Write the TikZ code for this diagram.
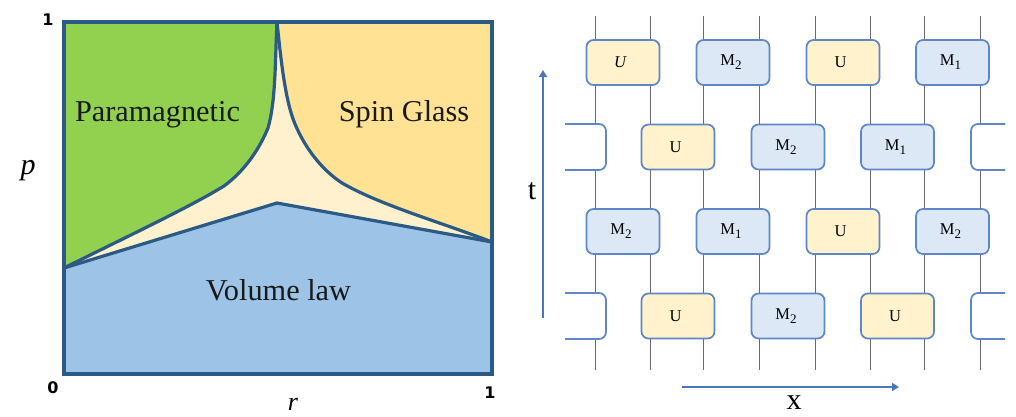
\documentclass[tikz,border=0pt]{standalone}
\usepackage{fontspec}
\setmainfont{Liberation Serif}
\newfontfamily\axisfont{DejaVu Sans}
\usetikzlibrary{arrows.meta}
\definecolor{edgeblue}{HTML}{2B5A84}
\definecolor{greenreg}{HTML}{92D050}
\definecolor{yellowreg}{HTML}{FFE294}
\definecolor{creamreg}{HTML}{FFF0CE}
\definecolor{bluereg}{HTML}{9DC3E6}
\definecolor{gateline}{HTML}{5F86C6}
\definecolor{gateblue}{HTML}{DCE8F6}
\definecolor{gateyellow}{HTML}{FFF2CC}
\definecolor{wirecol}{HTML}{6A6A6A}
\definecolor{arrowcol}{HTML}{4A76BE}
\tikzset{
  region/.style={font=\fontsize{30.3}{32}\selectfont, text=black!90, inner sep=0pt},
  axisnum/.style={font=\axisfont\bfseries\fontsize{16}{18}\selectfont, inner sep=0pt},
  axisvar/.style={font=\fontsize{30}{32}\selectfont, inner sep=0pt},
  gate/.style={draw=gateline, line width=1.7pt, rounded corners=7pt, minimum width=73pt, minimum height=45pt, inner sep=0pt, font=\fontsize{16.5}{19}\selectfont},
  ugate/.style={gate, fill=gateyellow},
  mgate/.style={gate, fill=gateblue},
  wire/.style={draw=wirecol, line width=1.2pt},
  halfgate/.style={draw=gateline, fill=white, line width=1.7pt, rounded corners=7pt},
  tarrow/.style={draw=arrowcol, line width=2.3pt, -{Triangle[length=7pt,width=8pt]}},
  phase/.style={draw=edgeblue, line width=3.2pt, line join=round}
}
\newcommand{\gatesub}[1]{\raisebox{-4pt}{\fontsize{13}{14}\selectfont #1}}
\newcommand{\Mone}{\hspace*{-4pt}M\gatesub{1}}
\newcommand{\Mtwo}{\hspace*{-4pt}M\gatesub{2}}
\newcommand{\Ugate}{\hspace*{-5pt}U}
\begin{document}
\begin{tikzpicture}[x=1pt,y=-1pt]
\useasboundingbox (0,0) rectangle (1016,416);
% phase diagram corners
\coordinate (tl) at (64,22);
\coordinate (tr) at (492,22);
\coordinate (br) at (492,374);
\coordinate (bl) at (64,374);
\coordinate (top) at (277,22);
\coordinate (jl) at (64,268);
\coordinate (jr) at (492,242);
\coordinate (jm) at (277,203);
% regions
\fill[creamreg] (jl) -- (top) -- (jr) -- (jm) -- cycle;
\fill[creamreg] (top) -- (255,160) -- (300,160) -- cycle;
\fill[greenreg] (tl) -- (top) .. controls (275,60) and (276,100) .. (268,128) .. controls (258,152) and (243,172) .. (224,186) .. controls (190,207) and (120,240) .. (jl) -- cycle;
\fill[yellowreg] (tr) -- (top) .. controls (281,60) and (285,100) .. (295,124) .. controls (305,148) and (322,170) .. (342,183) .. controls (380,205) and (440,222) .. (jr) -- cycle;
\fill[bluereg] (jl) -- (jm) -- (jr) -- (br) -- (bl) -- cycle;
% boundaries
\draw[phase] (top) .. controls (275,60) and (276,100) .. (268,128) .. controls (258,152) and (243,172) .. (224,186) .. controls (190,207) and (120,240) .. (jl);
\draw[phase] (top) .. controls (281,60) and (285,100) .. (295,124) .. controls (305,148) and (322,170) .. (342,183) .. controls (380,205) and (440,222) .. (jr);
\draw[phase] (jl) -- (jm) -- (jr);
\draw[phase, line width=3.6pt, line join=miter] (tl) -- (tr) -- (br) -- (bl) -- cycle;
% labels
\node[region] (para) at (157.5,114.5) {Paramagnetic};
\node[region] (spin) at (404,114.5) {Spin Glass};
\node[region] (vol) at (278.5,290) {Volume law};
\node[axisnum] (n1a) at (48,20) {1};
\node[axisnum] (n0) at (53,388) {0};
\node[axisnum] (n1b) at (490,393) {1};
\node[axisvar] (pl) at (28,171) {\textit{p}};
\node[axisvar, font=\fontsize{26}{28}\selectfont] (rl) at (293,404) {\textit{r}};
% wires
\foreach \i/\x in {1/595.5,2/650.5,3/703.5,4/759.5,5/815.5,6/870.5,7/924.5,8/980.5}{
  \coordinate (wt\i) at (\x,16);
  \coordinate (wb\i) at (\x,370);
  \draw[wire] (wt\i) -- (wb\i);
}
% half gates
\draw[halfgate] (565,124) -- (606,124) -- (606,170) -- (565,170);
\draw[halfgate] (1005,124) -- (971,124) -- (971,170) -- (1005,170);
\draw[halfgate] (565,293) -- (606,293) -- (606,339) -- (565,339);
\draw[halfgate] (1005,293) -- (971,293) -- (971,339) -- (1005,339);
% gates row 1
\node[ugate] (a1) at (623,62.5) {\hspace*{-5pt}\textit{U}};
\node[mgate] (a2) at (733,62.5) {\Mtwo};
\node[ugate] (a3) at (843,62.5) {\Ugate};
\node[mgate] (a4) at (952.5,62.5) {\Mone};
% row 2
\node[ugate] (b1) at (678,147) {\Ugate};
\node[mgate] (b2) at (788,147) {\Mtwo};
\node[mgate] (b3) at (897.5,147) {\Mone};
% row 3
\node[mgate] (c1) at (623,231.5) {\Mtwo};
\node[mgate] (c2) at (733,231.5) {\Mone};
\node[ugate] (c3) at (843,231.5) {\Ugate};
\node[mgate] (c4) at (952.5,231.5) {\Mtwo};
% row 4
\node[ugate] (d1) at (678,316) {\Ugate};
\node[mgate] (d2) at (788,316) {\Mtwo};
\node[ugate] (d3) at (897.5,316) {\Ugate};
% axes
\coordinate (ts) at (543,318);
\coordinate (te) at (543,70);
\coordinate (xs) at (682,387);
\coordinate (xe) at (899,387);
\draw[tarrow] (ts) -- (te);
\draw[tarrow] (xs) -- (xe);
\node[axisvar] (tl2) at (532,191) {t};
\node[axisvar] (xl) at (794,403) {x};
\end{tikzpicture}
\end{document}
